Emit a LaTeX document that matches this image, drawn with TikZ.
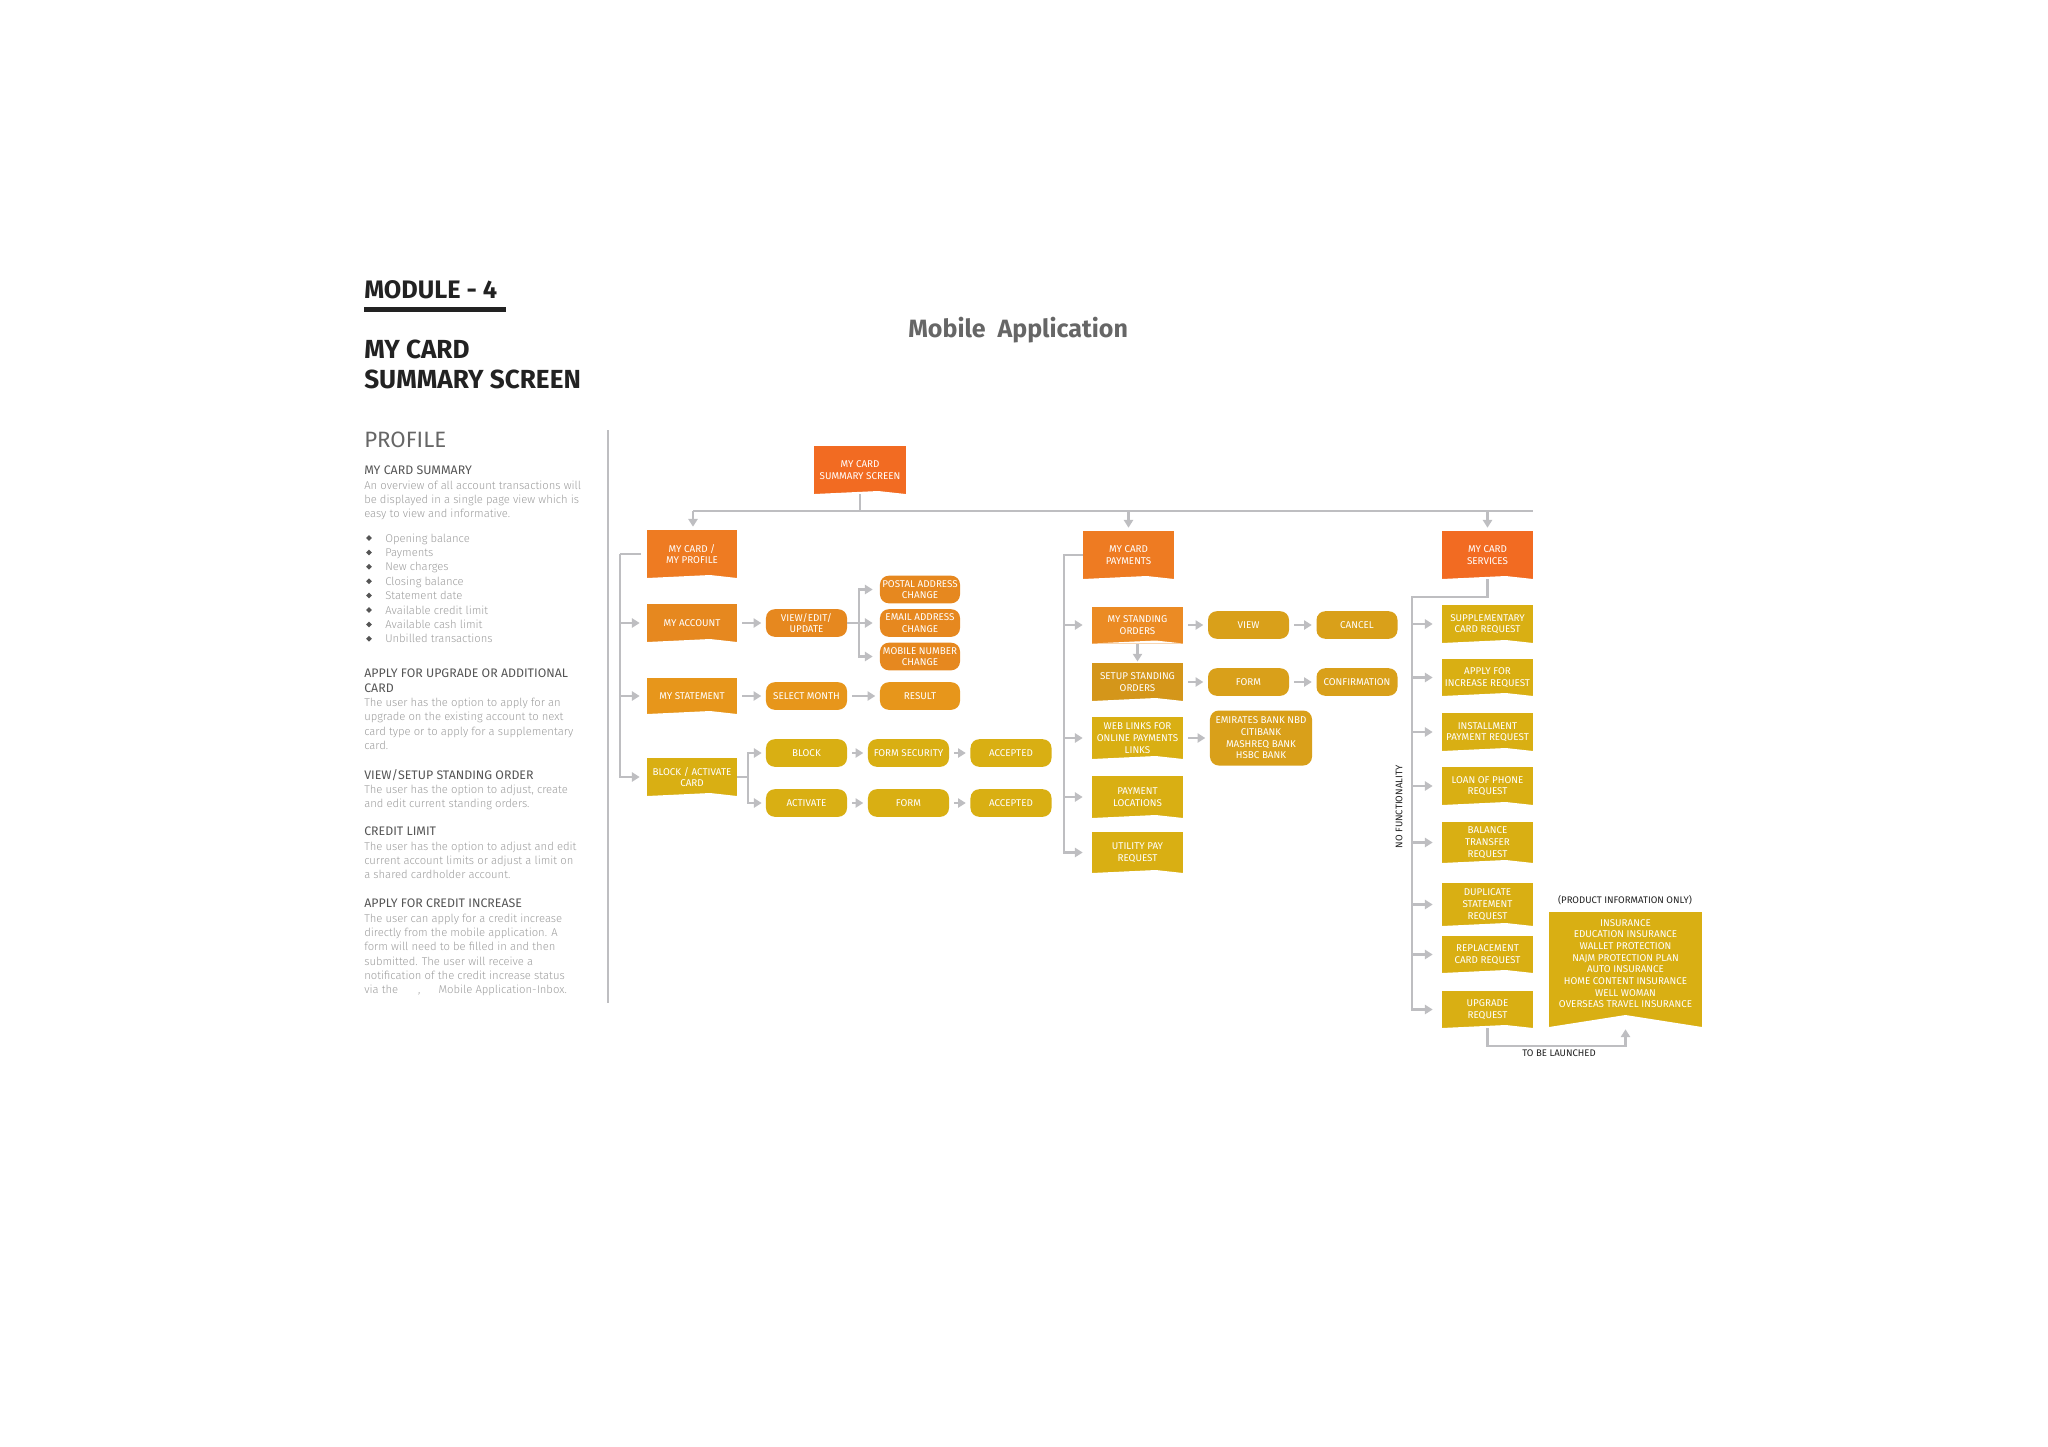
\documentclass[tikz,border=0pt]{standalone}
\usepackage{fontspec}
\setmainfont{Fira Sans}
\newfontfamily\lightfont{Fira Sans Light}
\usetikzlibrary{arrows.meta,calc,shapes.geometric}

\definecolor{orSum}{HTML}{F26B22}
\definecolor{orTop}{HTML}{EE7B22}
\definecolor{orAcc}{HTML}{E6881F}
\definecolor{orStd}{HTML}{EB8B24}
\definecolor{orStm}{HTML}{E7961B}
\definecolor{mustard}{HTML}{D9A01A}
\definecolor{mustdark}{HTML}{D4961A}
\definecolor{goldbox}{HTML}{D9AF13}
\definecolor{linkgray}{HTML}{BEBEC1}
\definecolor{inkdark}{HTML}{222222}
\definecolor{titlegray}{HTML}{666666}
\definecolor{headgray}{HTML}{555555}
\definecolor{bodygray}{HTML}{9C9C9C}

\newcommand{\cardhead}[1]{{\normalfont\fontsize{8.8}{10.15}\selectfont\color{headgray}#1}}

\tikzset{
    boxtext/.style={text=white, align=center, inner sep=0pt, font=\fontsize{7}{8.3}\selectfont},
    flag/.style={boxtext, rectangle, fill=#1, minimum width=2.275cm,
        path picture={\fill[white] (path picture bounding box.south west)
            -- ($(path picture bounding box.south west)!0.7!(path picture bounding box.south east)+(0,0.075cm)$)
            -- (path picture bounding box.south east) -- cycle;}},
    bigflag/.style={boxtext, rectangle, fill=#1,
        path picture={\fill[white] (path picture bounding box.south west)
            -- ($(path picture bounding box.south west)!0.5!(path picture bounding box.south east)+(0,0.3cm)$)
            -- (path picture bounding box.south east) -- cycle;}},
    pill/.style={boxtext, rectangle, rounded corners=0.22cm, fill=#1, minimum width=2.025cm, minimum height=0.69cm},
    link/.style={draw=linkgray, line width=1.9pt},
    arrow/.style={link, -{Triangle[length=5.5pt,width=6.5pt]}, shorten <=0.12cm, shorten >=0.11cm},
    branch/.style={link, -{Triangle[length=5.5pt,width=6.5pt]}, shorten >=#1},
    branch/.default=0.2cm,
    note/.style={anchor=north west, inner sep=0pt, align=left, text=bodygray, font=\lightfont\fontsize{8}{10.15}\selectfont},
    tag/.style={inner sep=0pt, text=inkdark, font=\fontsize{6.8}{8}\selectfont}
}

\begin{document}
\begin{tikzpicture}[x=0.025cm, y=-0.025cm]
    \useasboundingbox (0,0) rectangle (2048,1447);

    \node[anchor=base west, inner sep=0pt, text=inkdark, font=\bfseries\fontsize{18}{21}\selectfont] at (364,298) (module) {MODULE - 4};
    \fill[inkdark] (364,307) rectangle (506,312);
    \node[anchor=north west, inner sep=0pt, align=left, text=inkdark, font=\bfseries\fontsize{18.6}{21.3}\selectfont] at (364,340) (screenname) {MY CARD\\SUMMARY SCREEN};
    \node[anchor=base west, inner sep=0pt, text=titlegray, font=\bfseries\fontsize{17.8}{21}\selectfont] at (908,337) (apptitle) {Mobile\ \ Application};
    \node[anchor=base west, inner sep=0pt, text=titlegray, font=\fontsize{15.8}{19}\selectfont] at (364,447) (profilehead) {PROFILE};

    \node[note] at (364,466) (summarynote) {\cardhead{MY CARD SUMMARY}\\An overview of all account transactions will\\be displayed in a single page view which is\\easy to view and informative.};
    \foreach \entry [count=\n] in {Opening balance, Payments, New charges, Closing balance, Statement date, Available credit limit, Available cash limit, Unbilled transactions} {
        \node[diamond, fill=headgray, inner sep=0pt, minimum size=0.15cm] at (369,{523.6+14.4*\n}) (dot\n) {};
        \node[anchor=base west, inner sep=0pt, text=bodygray, font=\lightfont\fontsize{8}{10.15}\selectfont] at (385,{527.6+14.4*\n}) (bullet\n) {\entry};
    }
    \node[note] at (364,669) (upgradenote) {\cardhead{APPLY FOR UPGRADE OR ADDITIONAL}\\\cardhead{CARD}\\The user has the option to apply for an\\upgrade on the existing account to next\\card type or to apply for a supplementary\\card.};
    \node[note] at (364,769) (ordernote) {\cardhead{VIEW/SETUP STANDING ORDER}\\The user has the option to adjust, create\\and edit current standing orders.};
    \node[note] at (364,827) (limitnote) {\cardhead{CREDIT LIMIT}\\The user has the option to adjust and edit\\current account limits or adjust a limit on\\a shared cardholder account.};
    \node[note] at (364,899) (increasenote) {\cardhead{APPLY FOR CREDIT INCREASE}\\The user can apply for a credit increase\\directly from the mobile application. A\\form will need to be filled in and then\\submitted. The user will receive a\\notification of the credit increase status\\via the\hspace{0.5cm},\hspace{0.45cm}Mobile Application-Inbox.};
    \draw[linkgray, line width=1.5pt] (608,430) -- (608,1003);

    \node[flag=orSum, minimum height=1.2cm] at (860,470) (summary) {MY CARD\\SUMMARY SCREEN};

    \node[flag=orTop, minimum width=2.25cm, minimum height=1.2cm] at (692,554) (profile) {MY CARD /\\MY PROFILE};
    \node[flag=orAcc, minimum width=2.25cm, minimum height=0.95cm] at (692,623) (account) {MY ACCOUNT};
    \node[flag=orStm, minimum width=2.25cm, minimum height=0.9cm] at (692,696) (statement) {MY STATEMENT};
    \node[flag=goldbox, minimum width=2.25cm, minimum height=0.95cm] at (692,777) (blockcard) {BLOCK / ACTIVATE\\CARD};
    \node[pill=orAcc] at (806.5,623) (viewedit) {VIEW/EDIT/\\UPDATE};
    \node[pill=orAcc, minimum width=2cm] at (920,589.5) (postal) {POSTAL ADDRESS\\CHANGE};
    \node[pill=orAcc, minimum width=2cm] at (920,623) (email) {EMAIL ADDRESS\\CHANGE};
    \node[pill=orAcc, minimum width=2cm] at (920,656.5) (mobile) {MOBILE NUMBER\\CHANGE};
    \node[pill=orStm] at (806.5,696) (month) {SELECT MONTH};
    \node[pill=orStm, minimum width=2cm] at (920,696) (result) {RESULT};
    \node[pill=goldbox] at (806.5,753) (block) {BLOCK};
    \node[pill=goldbox] at (908.5,753) (formsec) {FORM SECURITY};
    \node[pill=goldbox] at (1011,753) (acceptA) {ACCEPTED};
    \node[pill=goldbox] at (806.5,803) (activate) {ACTIVATE};
    \node[pill=goldbox] at (908.5,803) (formact) {FORM};
    \node[pill=goldbox] at (1011,803) (acceptB) {ACCEPTED};

    \node[flag=orTop, minimum height=1.2cm] at (1128.5,555) (payments) {MY CARD\\PAYMENTS};
    \node[flag=orStd, minimum height=0.925cm] at (1137.5,625) (standing) {MY STANDING\\ORDERS};
    \node[flag=mustdark, minimum height=0.95cm] at (1137.5,682) (setup) {SETUP STANDING\\ORDERS};
    \node[flag=goldbox, minimum height=1.05cm] at (1137.5,738) (weblinks) {WEB LINKS FOR\\ONLINE PAYMENTS\\LINKS};
    \node[flag=goldbox, minimum height=1.05cm] at (1137.5,797) (locations) {PAYMENT\\LOCATIONS};
    \node[flag=goldbox, minimum height=1.025cm] at (1137.5,852.5) (utility) {UTILITY PAY\\REQUEST};
    \node[pill=mustard] at (1248.5,625) (view) {VIEW};
    \node[pill=mustard] at (1357,625) (cancel) {CANCEL};
    \node[pill=mustard] at (1248.5,682) (formord) {FORM};
    \node[pill=mustard] at (1357,682) (confirm) {CONFIRMATION};
    \node[pill=mustard, minimum width=2.55cm, minimum height=1.375cm] at (1261,738) (banks) {EMIRATES BANK NBD\\CITIBANK\\MASHREQ BANK\\HSBC BANK};

    \node[flag=orSum, minimum height=1.2cm] at (1487.5,555) (services) {MY CARD\\SERVICES};
    \node[flag=goldbox, minimum height=0.95cm] at (1487.5,624) (supplement) {SUPPLEMENTARY\\CARD REQUEST};
    \node[flag=goldbox, minimum height=0.925cm] at (1487.5,677.5) (increase) {APPLY FOR\\INCREASE REQUEST};
    \node[flag=goldbox, minimum height=0.95cm] at (1487.5,732) (install) {INSTALLMENT\\PAYMENT REQUEST};
    \node[flag=goldbox, minimum height=0.95cm] at (1487.5,786) (loan) {LOAN OF PHONE\\REQUEST};
    \node[flag=goldbox, minimum height=1.025cm] at (1487.5,842.5) (balance) {BALANCE\\TRANSFER\\REQUEST};
    \node[flag=goldbox, minimum height=1.075cm] at (1487.5,904.5) (duplicate) {DUPLICATE\\STATEMENT\\REQUEST};
    \node[flag=goldbox, minimum height=0.925cm] at (1487.5,954.5) (replace) {REPLACEMENT\\CARD REQUEST};
    \node[flag=goldbox, minimum height=0.925cm] at (1487.5,1009.5) (upgrade) {UPGRADE\\REQUEST};
    \node[bigflag=goldbox, minimum width=3.825cm, minimum height=2.875cm] at (1625.5,969.5) (insurance) {INSURANCE\\EDUCATION INSURANCE\\WALLET PROTECTION\\NAJM PROTECTION PLAN\\AUTO INSURANCE\\HOME CONTENT INSURANCE\\WELL WOMAN\\OVERSEAS TRAVEL INSURANCE\\\mbox{}};

    \node[tag] at (1625,900) (prodinfo) {(PRODUCT INFORMATION ONLY)};
    \node[tag] at (1559,1053) (launched) {TO BE LAUNCHED};
    \node[tag, rotate=90] at (1399,807) (nofunc) {NO FUNCTIONALITY};

    \coordinate (busW) at (693,511);
    \coordinate (busE) at (1533,511);
    \draw[link] (busW) -- (busE);
    \draw[link] (summary.south) -- (summary.south |- busW);
    \draw[branch=0.075cm] (busW) -- (busW |- profile.north);
    \draw[branch=0.075cm] (payments.north |- busW) -- (payments.north);
    \draw[branch=0.075cm] (services.north |- busW) -- (services.north);

    \coordinate (profbus) at (620,554);
    \draw[link, shorten <=0.15cm] (profile.west) -- (profbus);
    \draw[branch=0.175cm] (profbus) |- (blockcard.west);
    \draw[branch=0.175cm] (profbus |- account) -- (account);
    \draw[branch=0.175cm] (profbus |- statement) -- (statement);
    \draw[arrow] (account) -- (viewedit);
    \coordinate (forkA) at (859,623);
    \draw[link] (viewedit) -- (forkA);
    \draw[branch=0.175cm] (forkA) |- (postal);
    \draw[branch=0.175cm] (forkA) -- (email);
    \draw[branch=0.175cm] (forkA) |- (mobile);
    \draw[arrow] (statement) -- (month);
    \draw[arrow] (month) -- (result);
    \coordinate (forkB) at (748,777);
    \draw[link] (blockcard) -- (forkB);
    \draw[branch=0.1cm] (forkB) |- (block);
    \draw[branch=0.1cm] (forkB) |- (activate);
    \draw[arrow] (block) -- (formsec);
    \draw[arrow] (formsec) -- (acceptA);
    \draw[arrow] (activate) -- (formact);
    \draw[arrow] (formact) -- (acceptB);

    \coordinate (paybus) at (1064,555);
    \draw[branch=0.225cm] (payments.west) -- (paybus) |- (utility);
    \draw[branch=0.225cm] (paybus |- standing) -- (standing);
    \draw[branch=0.225cm] (paybus |- weblinks) -- (weblinks);
    \draw[branch=0.225cm] (paybus |- locations) -- (locations);
    \draw[branch=0.03cm] (standing) -- (setup);
    \draw[arrow] (standing) -- (view);
    \draw[arrow] (view) -- (cancel);
    \draw[arrow] (setup) -- (formord);
    \draw[arrow] (formord) -- (confirm);
    \draw[arrow] (weblinks) -- (banks);

    \coordinate (servbus) at (1412,597);
    \draw[branch=0.225cm] (services.south) |- (servbus) |- (upgrade);
    \draw[branch=0.225cm] (servbus |- supplement) -- (supplement);
    \draw[branch=0.225cm] (servbus |- increase) -- (increase);
    \draw[branch=0.225cm] (servbus |- install) -- (install);
    \draw[branch=0.225cm] (servbus |- loan) -- (loan);
    \draw[branch=0.225cm] (servbus |- balance) -- (balance);
    \draw[branch=0.225cm] (servbus |- duplicate) -- (duplicate);
    \draw[branch=0.225cm] (servbus |- replace) -- (replace);
    \coordinate (launch) at (1487.5,1046);
    \draw[branch=0.05cm] (upgrade.south) -- (launch) -| (insurance.south);
\end{tikzpicture}
\end{document}
